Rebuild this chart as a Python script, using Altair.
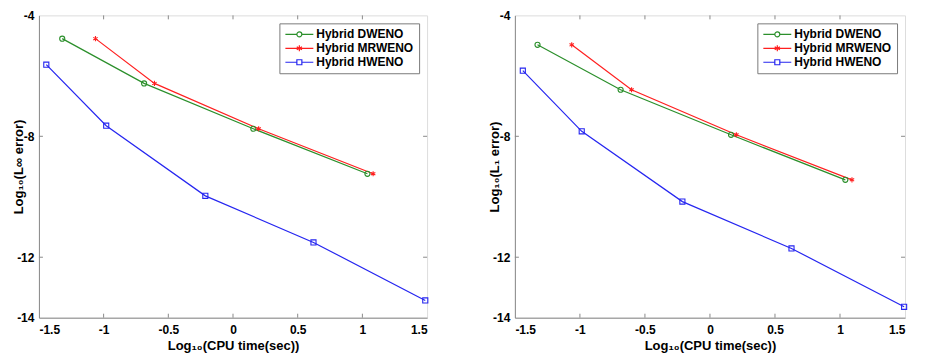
import altair as alt
import pandas as pd

# ---------------- data ----------------
series_names = ["Hybrid DWENO", "Hybrid MRWENO", "Hybrid HWENO"]
series_colors = ["#2b8f2b", "#ff1f1f", "#2626f0"]

# Left panel: L-infinity error
linf_dweno_x = [-1.320, -0.687, 0.157, 1.039]
linf_dweno_y = [-4.77, -6.25, -7.75, -9.24]
linf_mrweno_x = [-1.063, -0.607, 0.198, 1.083]
linf_mrweno_y = [-4.77, -6.25, -7.75, -9.24]
linf_hweno_x = [-1.443, -0.980, -0.214, 0.622, 1.486]
linf_hweno_y = [-5.63, -7.65, -9.97, -11.51, -13.43]

# Right panel: L1 error
l1_dweno_x = [-1.326, -0.687, 0.162, 1.041]
l1_dweno_y = [-4.975, -6.46, -7.95, -9.44]
l1_mrweno_x = [-1.063, -0.603, 0.203, 1.092]
l1_mrweno_y = [-4.975, -6.46, -7.95, -9.44]
l1_hweno_x = [-1.439, -0.986, -0.212, 0.627, 1.493]
l1_hweno_y = [-5.83, -7.835, -10.16, -11.71, -13.64]

x_ticks = [-1.5, -1, -0.5, 0, 0.5, 1, 1.5]
y_ticks = [-4, -8, -12, -14]

x_title = "Log\u2081\u2080(CPU time(sec))"
y_title_left = "Log\u2081\u2080(L\u221e error)"
y_title_right = "Log\u2081\u2080(L\u2081 error)"


def make_df(parts):
    rows = []
    for name, xs, ys in parts:
        for i, (xv, yv) in enumerate(zip(xs, ys)):
            rows.append({"series": name, "x": xv, "y": yv, "order": i})
    return pd.DataFrame(rows)


df_left = make_df([
    ("Hybrid DWENO", linf_dweno_x, linf_dweno_y),
    ("Hybrid MRWENO", linf_mrweno_x, linf_mrweno_y),
    ("Hybrid HWENO", linf_hweno_x, linf_hweno_y),
])
df_right = make_df([
    ("Hybrid DWENO", l1_dweno_x, l1_dweno_y),
    ("Hybrid MRWENO", l1_mrweno_x, l1_mrweno_y),
    ("Hybrid HWENO", l1_hweno_x, l1_hweno_y),
])

# ---------------- styling ----------------
FONT = "Liberation Sans"
GRAY = "#8a8a8a"
ASTERISK = "M0,-1V1M-0.87,-0.5L0.87,0.5M-0.87,0.5L0.87,-0.5"
point_shapes = ["circle", ASTERISK, "square"]

LEG_DWENO = "M-1,0H1.3M2.3,0H4.6M1.3,0A0.5,0.5 0 1,1 2.3,0A0.5,0.5 0 1,1 1.3,0"
LEG_MRWENO = "M-1,0H4.6M1.8,-0.6V0.6M1.28,-0.3L2.32,0.3M1.28,0.3L2.32,-0.3"
LEG_HWENO = "M-1,0H1.3M2.3,0H4.6M1.3,-0.5H2.3V0.5H1.3Z"
legend_shapes = [LEG_DWENO, LEG_MRWENO, LEG_HWENO]

W1, W2, H = 389, 391, 303
TICK = 4
TITLE_SIZE = 13
LABEL_SIZE = 12


def panel(df, ytitle, width):
    xscale = alt.Scale(domain=[-1.5, 1.5], nice=False, zero=False)
    yscale = alt.Scale(domain=[-14, -4], nice=False, zero=False)
    common = dict(grid=False, ticks=False, tickSize=0, domainColor=GRAY,
                  labelFont=FONT, labelFontSize=LABEL_SIZE, labelFontWeight="bold",
                  labelColor="black", titleFont=FONT, titleFontSize=TITLE_SIZE,
                  titleFontWeight="bold", titleColor="black",
                  labelExpr="'' + datum.value")
    xaxis = alt.Axis(values=x_ticks, title=x_title, labelPadding=7, titlePadding=4, **common)
    yaxis = alt.Axis(values=y_ticks, title=ytitle, labelPadding=5, titlePadding=-9, **common)
    X = alt.X("x:Q", scale=xscale, axis=xaxis)
    Y = alt.Y("y:Q", scale=yscale, axis=yaxis)

    def cscale():
        return alt.Scale(domain=series_names, range=series_colors)

    base = alt.Chart(df)
    lines = base.mark_line(strokeWidth=1.2).encode(
        x=X, y=Y,
        color=alt.Color("series:N", scale=cscale(), legend=None),
        order="order:Q",
    )
    points = base.mark_point(filled=False, size=26, strokeWidth=1.1, opacity=1).encode(
        x=X, y=Y,
        color=alt.Color("series:N", scale=cscale(), legend=None),
        shape=alt.Shape("series:N", scale=alt.Scale(domain=series_names, range=point_shapes), legend=None),
    )
    leg = alt.Legend(
        title=None, orient="top-right", offset=8,
        fillColor="white", strokeColor="#7a7a7a", padding=5,
        labelFont=FONT, labelFontSize=12, labelFontWeight="bold",
        labelColor="black", labelOffset=20, rowPadding=2,
        symbolSize=100, symbolStrokeWidth=1.2, symbolOpacity=1,
    )
    legend_layer = base.mark_point(filled=False, opacity=0).encode(
        x=X, y=Y,
        color=alt.Color("series:N", scale=cscale(), legend=leg),
        shape=alt.Shape("series:N", scale=alt.Scale(domain=series_names, range=legend_shapes), legend=leg),
    )

    xt = alt.Chart(pd.DataFrame({"x": x_ticks[1:-1]}))
    yt = alt.Chart(pd.DataFrame({"y": y_ticks[1:-1]}))
    tick_top = xt.mark_rule(color=GRAY).encode(x=X, y=alt.value(0), y2=alt.value(TICK))
    tick_bot = xt.mark_rule(color=GRAY).encode(x=X, y=alt.value(H), y2=alt.value(H - TICK))
    tick_left = yt.mark_rule(color=GRAY).encode(y=Y, x=alt.value(0), x2=alt.value(TICK))
    tick_right = yt.mark_rule(color=GRAY).encode(y=Y, x=alt.value(width), x2=alt.value(width - TICK))

    return alt.layer(tick_top, tick_bot, tick_left, tick_right, lines, points, legend_layer).resolve_scale(
        color="independent", shape="independent"
    ).properties(width=width, height=H)


left = panel(df_left, y_title_left, W1)
right = panel(df_right, y_title_right, W2)

chart = alt.hconcat(left, right, spacing=49).properties(
    padding={"left": 4, "top": 0, "right": 0, "bottom": 0}
).configure_view(
    stroke=GRAY, strokeWidth=1
).configure(background="white")

chart.save("out.html", embed_options={"renderer": "svg", "actions": False})
